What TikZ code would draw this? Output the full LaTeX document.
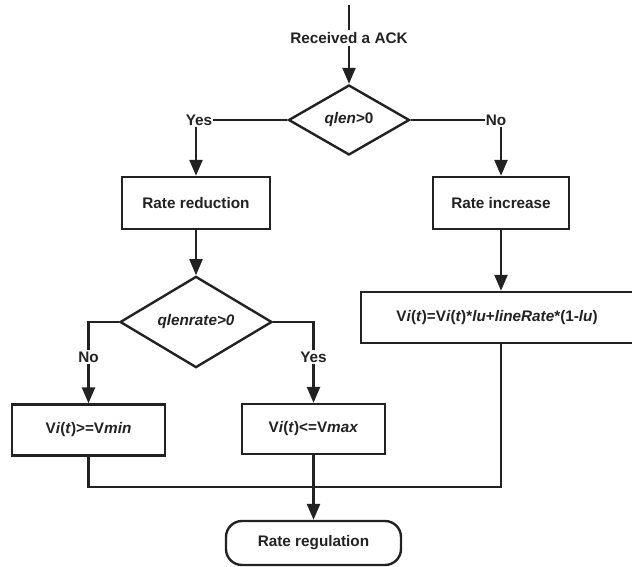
\documentclass[tikz,border=0pt]{standalone}
\usepackage{fontspec}
\setmainfont{Liberation Sans}
\usetikzlibrary{shapes.geometric,arrows.meta}
\definecolor{ink}{HTML}{222222}
\begin{document}
\begin{tikzpicture}[x=1pt,y=-1pt,
  every node/.style={font=\fontsize{15.3}{18}\selectfont\bfseries, text=ink},
  ln/.style={draw=ink, line width=2.4pt},
  arr/.style={ln, -{Triangle[length=16pt,width=13pt]}},
  boxn/.style={draw=ink, line width=2.4pt, rectangle, inner sep=0pt, fill=white},
  dia/.style={draw=ink, line width=2.4pt, diamond, inner sep=0pt},
  lbl/.style={inner sep=1pt, fill=white}]
\useasboundingbox (0,0) rectangle (632,567);
\clip (0,0) rectangle (632,567);
% top
\coordinate (start) at (349,5);
\node[inner sep=2pt] (ack) at (349,38) {Received a ACK};
\node[dia, minimum width=121pt, minimum height=70pt] (d1) at (349,120) {\itshape qlen\upshape{}>0};
\draw[ln] (start) -- (ack.north);
\draw[arr] (ack.south) -- (d1.north);
% branches of d1
\node[inner sep=1pt] (yes1) at (199,120) {Yes};
\node[inner sep=1pt] (no1) at (496,120) {No};
\node[boxn, minimum width=148pt, minimum height=52pt] (rr) at (196,203) {Rate reduction};
\node[boxn, minimum width=136pt, minimum height=52pt] (ri) at (501,203) {Rate increase};
\draw[ln] (d1.west) -- (d1.west -| yes1.east);
\draw[ln] (d1.east) -- (d1.east -| no1.west);
\draw[arr] (yes1.south -| rr.north) -- (rr.north);
\draw[arr] (no1.south -| ri.north) -- (ri.north);
% second diamond
\node[dia, minimum width=152pt, minimum height=80pt] (d2) at (196,322) {\itshape qlenrate>0};
\draw[arr] (rr.south) -- (d2.north);
\node[boxn, minimum width=153pt, minimum height=51pt] (vmin) at (88.5,430) {V\textit{i}(\textit{t})>=V\textit{min}};
\node[boxn, minimum width=143pt, minimum height=50pt] (vmax) at (313.5,429) {V\textit{i}(\textit{t})<=V\textit{max}};
\coordinate (c1) at (88.5,322);
\coordinate (c2) at (313.5,322);
\node[lbl] (no2) at (88.5,357) {No};
\node[lbl] (yes2) at (313.5,357) {Yes};
\draw[ln] (d2.west) -- (c1) -- (no2.north);
\draw[arr] (no2.south) -- (vmin.north);
\draw[ln] (d2.east) -- (c2) -- (yes2.north);
\draw[arr] (yes2.south) -- (vmax.north);
% big formula box
\node[boxn, minimum width=280pt, minimum height=51pt] (vf) at (501,317.5) {};
\node (vftext) at (497,318) {V\textit{i}(\textit{t})=V\textit{i}(\textit{t})*\textit{lu}+\textit{lineRate}*(1-\textit{lu})};
\draw[arr] (ri.south) -- (vf.north);
% merge
\coordinate (m) at (313.5,487);
\node[draw=ink, line width=2.4pt, rounded corners=16pt, minimum width=175pt, minimum height=44pt, inner sep=0pt] (rg) at (313.5,543) {\raisebox{-1pt}{Rate regulation}};
\draw[ln] (vmin.south) |- (m);
\draw[ln] (vf.south) |- (m);
\draw[arr] (vmax.south) -- (rg.north);
\end{tikzpicture}
\end{document}
